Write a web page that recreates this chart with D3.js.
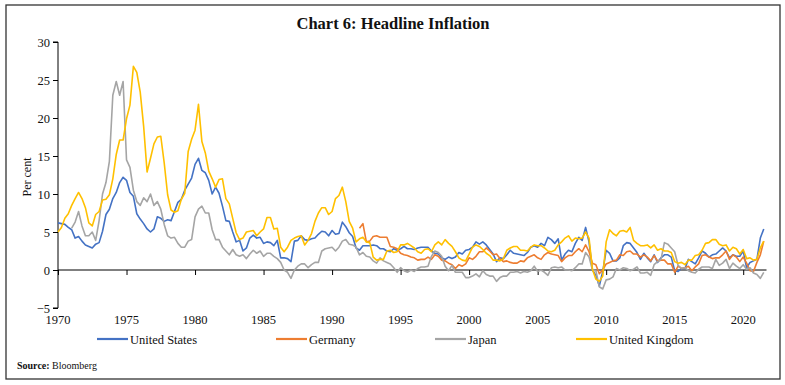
<!DOCTYPE html>
<html>
<head>
<meta charset="utf-8">
<script src="https://cdn.jsdelivr.net/npm/d3@7"></script>
<style>
  html, body { margin: 0; padding: 0; background: #fff; }
  svg { display: block; }
</style>
</head>
<body>
<svg id="chart" width="785" height="385"></svg>
<script>
// ---- Data (quarterly readings: Jan, Apr, Jul, Oct) ----
const xTicks = [1970, 1975, 1980, 1985, 1990, 1995, 2000, 2005, 2010, 2015, 2020];
const yTicks = [-5, 0, 5, 10, 15, 20, 25, 30];
const seriesNames = ["United States", "Germany", "Japan", "United Kingdom"];
const seriesStart = [1970, 1992, 1971, 1970];

const usValues = [
  6.2, 6.1, 6.0, 5.6,   5.3, 4.2, 4.4, 3.8,   3.3, 3.1, 2.9, 3.4,   3.6, 5.1, 7.3, 8.0,
  9.4, 10.2, 11.5, 12.2,  11.8, 10.2, 9.7, 7.4,  6.7, 6.1, 5.4, 5.0,  5.4, 7.0, 6.8, 6.4,
  6.6, 6.5, 7.7, 8.9,   9.3, 10.5, 11.3, 12.1,  13.9, 14.7, 13.1, 12.8,  11.8, 10.0, 10.9, 10.1,
  8.4, 6.5, 6.4, 5.0,   3.7, 3.9, 2.5, 2.9,   4.2, 4.6, 4.2, 4.3,   3.5, 3.7, 3.6, 3.2,
  3.9, 1.6, 1.6, 1.5,   1.1, 3.8, 3.9, 4.5,   4.0, 3.9, 4.1, 4.2,   4.7, 5.1, 5.0, 4.5,
  5.2, 4.7, 4.8, 6.3,   5.7, 4.9, 4.4, 2.9,   2.6, 3.2, 3.2, 3.2,   3.3, 3.2, 2.8, 2.8,
  2.5, 2.4, 2.8, 2.6,   2.8, 3.1, 2.8, 2.8,   2.7, 2.9, 3.0, 3.0,   3.0, 2.5, 2.2, 2.1,
  1.6, 1.4, 1.7, 1.5,   1.7, 2.3, 2.1, 2.6,   2.7, 3.0, 3.7, 3.4,   3.7, 3.3, 2.7, 2.1,
  1.1, 1.6, 1.5, 2.0,   2.6, 2.2, 2.1, 2.0,   1.9, 2.3, 3.0, 3.2,   3.0, 3.5, 3.2, 4.3,
  4.0, 3.5, 4.1, 1.3,   2.1, 2.6, 2.4, 3.5,   4.3, 3.9, 5.6, 3.7,   0.0, -0.7, -2.1, -0.2,
  2.6, 2.2, 1.2, 1.2,   1.6, 3.2, 3.6, 3.5,   2.9, 2.3, 1.4, 2.2,   1.6, 1.1, 2.0, 1.0,
  1.6, 2.0, 2.0, 1.7,   -0.1, -0.2, 0.2, 0.2,  1.4, 1.1, 0.8, 1.6,   2.5, 2.2, 1.7, 2.0,
  2.1, 2.5, 2.9, 2.5,   1.6, 2.0, 1.8, 1.8,   2.5, 0.3, 1.0, 1.2,   1.4, 4.2, 5.4
];
const deValues = [
  5.5, 6.1, 3.7, 3.8,   4.4, 4.5, 4.3, 4.3,   4.3, 3.1, 3.0, 2.8,   2.2, 2.0, 1.9, 1.7,
  1.6, 1.3, 1.4, 1.4,   1.7, 1.4, 2.0, 1.8,   1.3, 1.2, 0.9, 0.7,   0.2, 0.7, 0.5, 0.8,
  1.6, 1.4, 1.8, 2.4,   2.4, 2.9, 2.5, 2.0,   2.1, 1.5, 1.1, 1.2,   1.0, 0.9, 0.9, 1.2,
  1.1, 1.6, 1.8, 2.0,   1.6, 1.4, 2.0, 2.3,   2.1, 2.0, 1.9, 1.1,   1.6, 1.9, 1.9, 2.4,
  2.8, 2.4, 3.3, 2.4,   0.9, 0.7, -0.5, 0.0,  0.8, 1.0, 1.2, 1.3,   2.0, 1.9, 2.4, 2.5,
  2.1, 2.1, 1.7, 2.0,   1.7, 1.2, 1.9, 1.2,   1.3, 1.3, 0.8, 0.8,   -0.3, 0.5, 0.2, 0.3,
  0.5, -0.1, 0.4, 0.8,  1.9, 2.0, 1.7, 1.5,   1.6, 1.6, 2.0, 2.5,   1.4, 2.0, 1.7, 1.1,
  1.7, 0.9, -0.1, -0.2,  1.0, 2.0, 3.8
];
const jpValues = [
  5.5, 6.3, 7.7, 5.8,   4.5, 4.5, 5.0, 3.9,   6.5, 10.0, 11.5, 14.3,
  23.0, 24.8, 23.0, 24.8,  14.5, 13.5, 10.5, 9.0,  8.5, 9.5, 9.0, 10.0,  8.5, 9.0, 8.0, 6.0,
  4.5, 4.2, 4.3, 3.5,   3.0, 3.0, 3.8, 4.0,   7.0, 8.0, 8.4, 7.5,   7.5, 5.3, 4.0, 4.0,
  3.0, 2.5, 2.0, 2.7,   2.0, 1.8, 2.0, 1.5,   2.1, 2.6, 2.2, 2.5,   1.8, 2.2, 2.2, 1.8,
  1.5, 1.0, 0.0, -0.3,  -1.1, 0.0, 0.5, 0.8,  0.8, 0.3, 0.7, 1.0,   1.0, 2.5, 2.8, 2.9,
  3.0, 2.5, 3.0, 3.8,   4.0, 3.4, 3.3, 3.0,   2.0, 2.3, 1.8, 1.7,   1.2, 0.9, 1.6, 1.2,
  1.0, 0.8, 0.3, -0.3,  0.3, -0.1, -0.3, 0.0,  -0.2, 0.2, 0.4, 0.4,  0.5, 1.8, 2.5, 2.3,
  1.8, 0.5, -0.1, 0.6,  -0.3, -0.3, -0.3, -1.0,  -1.0, -0.8, -0.5, -0.9,  -0.1, -0.6, -0.8, -0.8,
  -1.5, -1.0, -0.8, -0.8,  -0.3, -0.3, -0.2, -0.4,  -0.2, -0.3, -0.1, 0.5,  -0.2, 0.0, -0.3, -0.7,
  0.3, 0.4, 0.3, 0.4,   0.0, 0.0, -0.1, 0.3,  0.8, 0.8, 2.3, 1.7,   0.0, -0.1, -2.2, -2.5,
  -1.3, -1.2, -0.9, 0.2,  0.0, 0.3, 0.2, -0.1,  0.1, 0.4, -0.4, -0.4,  -0.3, -0.7, 0.7, 1.1,
  1.4, 3.6, 3.4, 2.9,   2.4, 0.6, 0.2, 0.3,   -0.1, -0.3, -0.4, 0.1,  0.4, 0.4, 0.4, 0.2,
  1.4, 0.6, 0.9, 1.4,   0.2, 0.9, 0.5, 0.2,   0.7, 0.1, 0.3, -0.4,  -0.6, -1.1, -0.3
];
const ukValues = [
  5.0, 5.6, 6.8, 7.4,   8.5, 9.4, 10.2, 9.4,   8.2, 6.2, 5.8, 7.3,   7.7, 9.2, 9.3, 9.9,
  12.0, 15.2, 17.1, 17.1,  19.9, 21.7, 26.8, 26.0,  23.4, 18.9, 12.9, 14.7,  16.6, 17.5, 17.6, 14.1,
  9.9, 7.9, 7.6, 7.8,   9.3, 10.1, 15.6, 17.2,  18.4, 21.8, 16.9, 15.4,  13.0, 12.0, 10.9, 11.9,
  12.0, 9.4, 8.7, 6.8,  4.9, 4.0, 4.2, 5.0,   5.1, 5.2, 4.5, 5.0,   5.4, 6.9, 6.9, 5.4,
  5.5, 3.0, 2.4, 3.0,   3.9, 4.2, 4.4, 4.5,   3.3, 3.9, 4.8, 6.4,   7.5, 8.2, 8.2, 7.3,
  7.7, 9.4, 9.8, 10.9,  9.0, 6.4, 5.5, 3.7,   4.1, 4.3, 3.7, 3.6,   1.7, 1.3, 1.4, 1.4,
  2.5, 2.6, 2.3, 2.4,   3.3, 3.3, 3.5, 3.2,   2.9, 2.4, 2.2, 2.7,   2.8, 2.4, 3.3, 3.7,
  3.3, 4.0, 3.5, 3.1,   2.4, 1.6, 1.3, 1.2,   2.1, 3.0, 3.3, 3.1,   2.7, 2.2, 1.9, 1.3,
  1.3, 1.2, 1.5, 2.6,   2.9, 3.1, 3.1, 2.6,   2.6, 2.5, 3.0, 3.3,   3.2, 3.2, 2.9, 2.5,
  2.4, 2.6, 3.3, 3.7,   4.2, 4.5, 3.8, 4.2,   4.1, 4.2, 5.0, 4.2,   0.1, -1.2, -1.5, -0.8,
  3.7, 5.3, 4.8, 4.5,   5.1, 5.2, 5.0, 5.6,   3.9, 3.5, 3.2, 3.2,   3.3, 2.9, 3.3, 2.6,
  2.8, 2.5, 2.5, 2.3,   1.1, 0.9, 1.0, 0.7,   1.3, 1.3, 1.9, 2.0,   2.6, 3.5, 3.6, 4.0,
  4.0, 3.4, 3.2, 3.3,   2.5, 3.0, 2.8, 2.1,   2.7, 1.5, 1.6, 1.3,   1.4, 2.9, 3.8
];
const seriesValues = [usValues, deValues, jpValues, ukValues];
const seriesColors = ["#4472C4", "#ED7D31", "#A5A5A5", "#FFC000"];

// ---- Drawing ----
const svg = d3.select("#chart");
const serif = "'Liberation Serif', 'DejaVu Serif', serif";

svg.append("rect")
  .attr("x", 6).attr("y", 5).attr("width", 774).attr("height", 374)
  .attr("fill", "#fff").attr("stroke", "#333").attr("stroke-width", 1.3);

svg.append("text")
  .attr("x", 393).attr("y", 29)
  .attr("text-anchor", "middle")
  .attr("font-family", serif).attr("font-weight", "bold").attr("font-size", 16.5)
  .attr("fill", "#111")
  .text("Chart 6: Headline Inflation");

const x = d3.scaleLinear().domain([1970, 2021.7]).range([58, 766.5]);
const y = d3.scaleLinear().domain([-5, 30]).range([308, 42]);

// Y axis
const yAxis = svg.append("g")
  .attr("transform", `translate(${x(1970)},0)`)
  .call(d3.axisLeft(y).tickValues(yTicks).tickSize(5).tickPadding(3).tickFormat(d3.format("d")));
yAxis.selectAll("path, line").attr("stroke", "#000").attr("stroke-width", 1);
yAxis.select(".domain").attr("d", `M-5,${y(-5)}H0V${y(30)}H-5`);
yAxis.selectAll("text").attr("font-family", serif).attr("font-size", 12.5).attr("fill", "#111");

// X axis along zero line
const xAxis = svg.append("g")
  .attr("transform", `translate(0,${y(0)})`)
  .call(d3.axisBottom(x).tickValues(xTicks).tickSize(5).tickFormat(""));
xAxis.selectAll("path, line").attr("stroke", "#000").attr("stroke-width", 1);
xAxis.select(".domain").attr("d", `M${x(1970)},0H${x(2021.7)}`);

// X labels below plot
svg.append("g").selectAll("text").data(xTicks).join("text")
  .attr("x", d => x(d)).attr("y", y(-5) + 16)
  .attr("text-anchor", "middle")
  .attr("font-family", serif).attr("font-size", 12.5).attr("fill", "#111")
  .text(d => d);

// Y label
svg.append("text")
  .attr("transform", `translate(31,177) rotate(-90)`)
  .attr("text-anchor", "middle")
  .attr("font-family", serif).attr("font-size", 12).attr("fill", "#111")
  .text("Per cent");

// Lines
const line = d3.line().x(d => x(d.t)).y(d => y(d.v));
seriesNames.forEach((name, i) => {
  const pts = seriesValues[i].map((v, j) => ({ t: seriesStart[i] + j * 0.25, v }));
  svg.append("path")
    .datum(pts)
    .attr("fill", "none")
    .attr("stroke", seriesColors[i])
    .attr("stroke-width", 1.6)
    .attr("stroke-linejoin", "round")
    .attr("d", line);
});

// Legend
const legendX = [97, 276, 435, 576];
const lg = svg.append("g");
seriesNames.forEach((name, i) => {
  lg.append("line")
    .attr("x1", legendX[i]).attr("x2", legendX[i] + 31)
    .attr("y1", 339).attr("y2", 339)
    .attr("stroke", seriesColors[i]).attr("stroke-width", 2.2);
  lg.append("text")
    .attr("x", legendX[i] + 33).attr("y", 343.5)
    .attr("font-family", serif).attr("font-size", 12.5).attr("fill", "#111")
    .text(name);
});

// Source
const src = svg.append("text")
  .attr("x", 17).attr("y", 369)
  .attr("font-family", serif).attr("font-size", 10).attr("fill", "#111");
src.append("tspan").attr("font-weight", "bold").text("Source: ");
src.append("tspan").text("Bloomberg");
</script>
</body>
</html>
